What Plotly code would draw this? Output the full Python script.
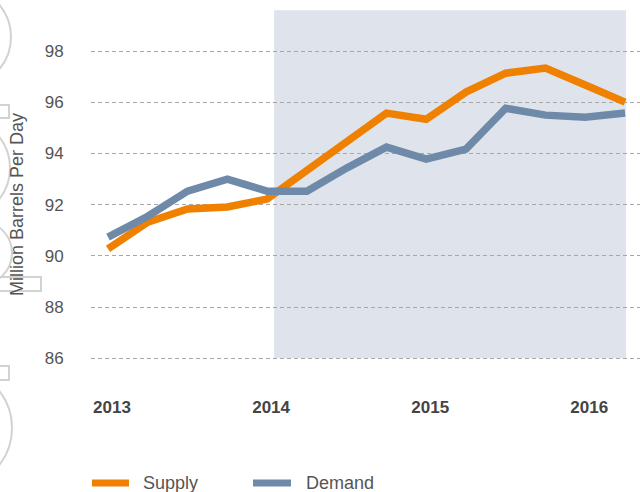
import plotly.graph_objects as go

# ---- data ----
quarters = [2013.0, 2013.25, 2013.5, 2013.75,
            2014.0, 2014.25, 2014.5, 2014.75,
            2015.0, 2015.25, 2015.5, 2015.75,
            2016.0, 2016.25]
supply = [90.27, 91.32, 91.83, 91.91,
          92.22, 93.37, 94.52, 95.58,
          95.34, 96.40, 97.14, 97.34,
          96.68, 96.01]
demand = [90.73, 91.55, 92.53, 93.00,
          92.53, 92.53, 93.43, 94.25,
          93.78, 94.17, 95.77, 95.50,
          95.42, 95.58]
year_ticks = [2013, 2014, 2015, 2016]
year_labels = ["2013", "2014", "2015", "2016"]
y_ticks = [86, 88, 90, 92, 94, 96, 98]
forecast_start = 2014.044
forecast_end = 2016.256

ORANGE = "#F08000"
BLUE = "#6E8AA8"
SHADE = "#DFE3EC"
FONT = "Liberation Sans, Arial, Helvetica, sans-serif"

W, H = 640, 492
ML, MT, MB = 91, 0, 121
PW = W - ML
PH = H - MT - MB


def px(x):
    return (x - ML) / PW


def py(y):
    return 1 - (y - MT) / PH


fig = go.Figure()
fig.add_trace(go.Scatter(x=quarters, y=supply, mode="lines", name="Supply",
                         line=dict(color=ORANGE, width=7.5), showlegend=False))
fig.add_trace(go.Scatter(x=quarters, y=demand, mode="lines", name="Demand",
                         line=dict(color=BLUE, width=7.5), showlegend=False))

shapes = [
    dict(type="rect", xref="x", yref="y", x0=forecast_start, x1=forecast_end,
         y0=86, y1=99.6, fillcolor=SHADE, line=dict(width=0), layer="below"),
]

# decorative faint outlines at the left edge
deco = "#D2D2D2"
for cx, cy, r in [(-39, 37, 50), (-40, 168, 50), (-20, 253, 32), (-48, 428, 60)]:
    shapes.append(dict(type="circle", xref="paper", yref="paper",
                       x0=px(cx - r), x1=px(cx + r), y0=py(cy + r), y1=py(cy - r),
                       line=dict(color=deco, width=2), layer="below"))
for x0, y0, x1, y1 in [(-5, 105, 9, 118), (-5, 277, 41, 291), (-5, 366, 9, 380)]:
    shapes.append(dict(type="rect", xref="paper", yref="paper",
                       x0=px(x0), x1=px(x1), y0=py(y1), y1=py(y0),
                       line=dict(color=deco, width=2), layer="below"))

# legend (drawn manually)
for x0, x1, col in [(92, 129, ORANGE), (253, 291, BLUE)]:
    shapes.append(dict(type="line", xref="paper", yref="paper",
                       x0=px(x0), x1=px(x1), y0=py(483), y1=py(483),
                       line=dict(color=col, width=7)))

annotations = [
    dict(text="Million Barrels Per Day", xref="paper", yref="paper",
         x=px(17), y=py(205), xanchor="center", yanchor="middle",
         textangle=-90, showarrow=False,
         font=dict(family=FONT, size=18, color="#555555")),
    dict(text="Supply", xref="paper", yref="paper", x=px(141), y=py(483),
         xanchor="left", yanchor="middle", showarrow=False,
         font=dict(family=FONT, size=18, color="#555555")),
    dict(text="Demand", xref="paper", yref="paper", x=px(304), y=py(483),
         xanchor="left", yanchor="middle", showarrow=False,
         font=dict(family=FONT, size=18, color="#555555")),
]

fig.update_layout(
    width=W, height=H,
    margin=dict(l=ML, r=0, t=MT, b=MB, pad=0),
    paper_bgcolor="white", plot_bgcolor="rgba(0,0,0,0)",
    shapes=shapes, annotations=annotations,
    xaxis=dict(range=[2012.893, 2016.344], tickvals=year_ticks, ticktext=year_labels,
               showgrid=False, zeroline=False, showline=False,
               ticks="outside", ticklen=21, tickcolor="rgba(0,0,0,0)",
               ticklabelshift=4,
               tickfont=dict(family=FONT, size=17,
                             color="#444444", weight="bold")),
    yaxis=dict(range=[85.5, 100], tickvals=y_ticks,
               showgrid=True, gridcolor="#A8A8A8", gridwidth=1, griddash="4px,3px",
               zeroline=False, showline=False,
               ticks="outside", ticklen=23, tickcolor="rgba(0,0,0,0)",
               tickfont=dict(family=FONT, size=17, color="#555555")),
    showlegend=False,
)

fig.write_html("out.html",
               config={"displayModeBar": False},
               post_script="document.body.style.margin='0';"
                           "document.body.style.overflow='hidden';")
